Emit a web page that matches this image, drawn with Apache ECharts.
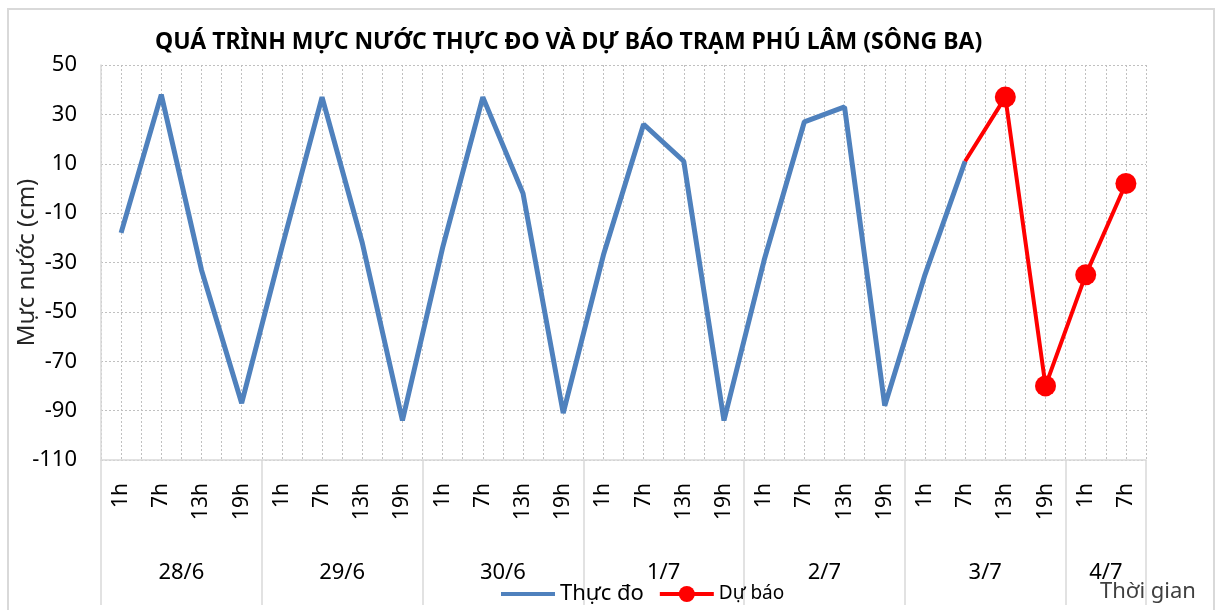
<!DOCTYPE html>
<html>
<head>
<meta charset="utf-8">
<script src="https://cdn.jsdelivr.net/npm/echarts@6/dist/echarts.min.js"></script>
<style>
  html, body { margin: 0; padding: 0; background: #fff; }
  #wrap { position: relative; width: 1219px; height: 610px; overflow: hidden; }
  #frame { position: absolute; left: 7px; top: 8px; width: 1208px; height: 640px; border: 2px solid #d9d9d9; box-sizing: border-box; }
  #chart { position: absolute; left: 0; top: 0; width: 1219px; height: 610px; }
</style>
</head>
<body>
<div id="wrap">
  <div id="frame"></div>
  <div id="chart"></div>
</div>
<script>
// ---- data ----
const titleText = 'QUÁ TRÌNH MỰC NƯỚC THỰC ĐO VÀ DỰ BÁO TRẠM PHÚ LÂM (SÔNG BA)';
const hourNames = ['1h', '7h', '13h', '19h'];
const days = ['28/6', '29/6', '30/6', '1/7', '2/7', '3/7', '4/7'];
const hoursPerDay = [4, 4, 4, 4, 4, 4, 2];
const measured = [-18, 38, -33, -87, -24, 37, -22, -94, -24, 37, -2, -91, -27, 26, 11, -94, -29, 27, 33, -88, -35, 11];
const forecastStartIndex = 21;
const forecast = [11, 37, -80, -35, 2];
const yTicks = [-110, -90, -70, -50, -30, -10, 10, 30, 50];
const seriesNames = ['Thực đo', 'Dự báo'];
const yName = 'Mực nước (cm)';
const xName = 'Thời gian';

// ---- derived ----
const categories = [];
const dayStarts = [];
const dayCenters = {};
hoursPerDay.forEach((n, d) => {
  dayStarts.push(categories.length);
  dayCenters[categories.length + n / 2] = days[d];
  for (let i = 0; i < n; i++) categories.push(hourNames[i]);
});
const N = categories.length;
const forecastData = categories.map(() => null);
forecast.forEach((v, i) => {
  forecastData[forecastStartIndex + i] = (i === 0) ? { value: v, symbol: 'none' } : v;
});

const FONT = 'Noto Sans';
const chart = echarts.init(document.getElementById('chart'), null, { renderer: 'canvas' });
chart.setOption({
  animation: false,
  title: [
    { text: titleText, left: 150, top: 26,
      textStyle: { fontFamily: FONT, fontSize: 23, fontWeight: 'bold', color: '#000' } },
    { text: xName, left: 1095, top: 576,
      textStyle: { fontFamily: FONT, fontSize: 22, fontWeight: 'normal', color: '#404040' } }
  ],
  legend: {
    left: 494, top: 578, itemWidth: 54, itemHeight: 20, itemGap: 14,
    data: [
      { name: seriesNames[0], itemStyle: { opacity: 0 }, lineStyle: { width: 4 } },
      { name: seriesNames[1], lineStyle: { width: 4 } }
    ],
    formatter: n => n === seriesNames[0] ? '{a|' + n + '}' : '{b|' + n + '}',
    textStyle: {
      fontFamily: FONT, color: '#000',
      rich: { a: { fontFamily: FONT, fontSize: 22, color: '#000' }, b: { fontFamily: FONT, fontSize: 19, color: '#000' } }
    }
  },
  grid: { left: 101, right: 73, top: 65, bottom: 150 },
  xAxis: [
    {
      type: 'category', data: categories, boundaryGap: true, position: 'bottom',
      axisLine: { show: true, onZero: false, lineStyle: { color: '#d9d9d9', width: 1.5 } },
      axisTick: { show: true, length: 145, interval: (i) => dayStarts.indexOf(i) >= 0 || i >= N, lineStyle: { color: '#d9d9d9', width: 1.5 } },
      axisLabel: { interval: 0, rotate: 90, margin: 23, fontFamily: FONT, fontSize: 21, color: '#000' },
      splitLine: { show: false }
    },
    {
      type: 'value', min: 0, max: N, interval: 0.5, position: 'bottom',
      axisLine: { show: false, onZero: false }, axisTick: { show: false },
      axisLabel: { margin: 102, fontFamily: FONT, fontSize: 22, color: '#000',
        formatter: v => dayCenters[v] || '' },
      splitLine: { show: true, lineStyle: { color: '#c0c0c0', type: [2, 2], width: 1 } }
    }
  ],
  yAxis: {
    type: 'value', min: yTicks[0], max: yTicks[yTicks.length - 1], interval: yTicks[1] - yTicks[0],
    axisLine: { show: true, onZero: false, lineStyle: { color: '#d9d9d9', width: 1.5 } },
    axisTick: { show: false },
    axisLabel: { margin: 24, fontFamily: FONT, fontSize: 22, color: '#000' },
    splitLine: { show: true, lineStyle: { color: '#c0c0c0', type: [2, 2], width: 1 } },
    name: yName, nameLocation: 'middle', nameGap: 62, nameMoveOverlap: false,
    nameTextStyle: { fontFamily: FONT, fontSize: 24, color: '#262626' }
  },
  series: [
    { name: seriesNames[0], type: 'line', xAxisIndex: 0, data: measured,
      symbol: 'none', color: '#4F81BD', lineStyle: { width: 5, color: '#4F81BD' }, z: 3 },
    { name: seriesNames[1], type: 'line', xAxisIndex: 0, data: forecastData,
      symbol: 'circle', symbolSize: 21, color: '#FF0000', lineStyle: { width: 4, color: '#FF0000' },
      itemStyle: { color: '#FF0000' }, z: 4 }
  ]
});
</script>
</body>
</html>
